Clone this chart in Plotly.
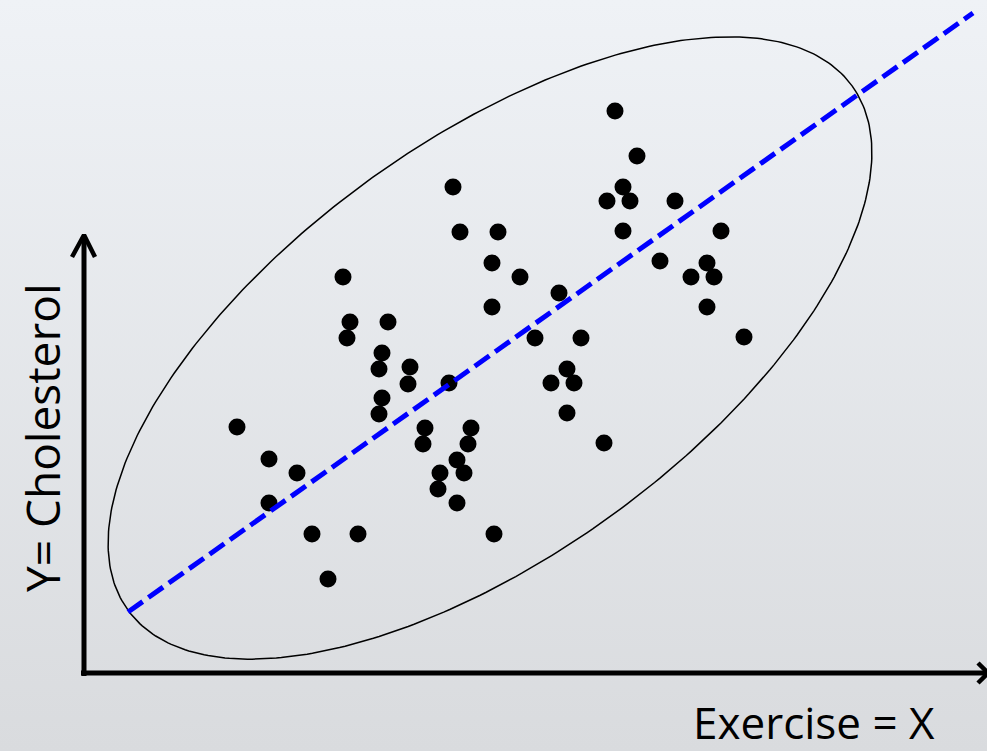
import numpy as np
import plotly.graph_objects as go

# ---- data (units: 1 unit = 10 px from the axis origin) ----
exercise = [53.1, 55.3, 36.9, 53.9, 52.3, 54.6, 59.1, 37.6, 41.4, 53.9,
            63.7, 40.8, 57.6, 62.3, 43.6, 60.7, 63.0, 25.9, 47.5, 40.8,
            62.3, 26.6, 30.4, 26.3, 45.1, 49.7, 66.0, 29.8, 29.5, 32.6,
            48.3, 32.4, 36.5, 46.7, 49.0, 29.8, 29.5, 48.3, 15.3, 34.1,
            38.7, 33.9, 38.4, 52.0, 18.5, 37.3, 21.3, 35.6, 38.0, 35.4,
            18.5, 37.3, 22.8, 27.4, 41.0, 24.4]
cholesterol = [56.2, 51.7, 48.6, 48.6, 47.2, 47.2, 47.2, 44.1, 44.1, 44.2,
               44.2, 41.0, 41.2, 41.0, 39.6, 39.6, 39.6, 39.6, 38.0, 36.6,
               36.6, 35.1, 35.1, 33.5, 33.5, 33.5, 33.6, 32.0, 30.4, 30.6,
               30.4, 28.9, 29.0, 29.0, 29.0, 27.5, 25.9, 26.0, 24.6, 24.5,
               24.5, 22.9, 22.9, 23.0, 21.4, 21.3, 20.0, 20.0, 20.0, 18.4,
               17.0, 17.0, 13.9, 13.9, 13.9, 9.4]

fit_x = [4.4, 88.9]
fit_y = [6.1, 66.0]

ellipse_center = (40.6, 32.5)
ellipse_axes = (44.7, 20.7)
ellipse_angle_deg = 35.9

x_label = "Exercise = X"
y_label = "Y= Cholesterol"

X_RANGE = [-8.4, 90.3]
Y_RANGE = [-7.8, 67.3]

fig = go.Figure()

# gradient background
fig.add_trace(go.Scatter(
    x=[X_RANGE[0], X_RANGE[1], X_RANGE[1], X_RANGE[0], X_RANGE[0]],
    y=[Y_RANGE[0], Y_RANGE[0], Y_RANGE[1], Y_RANGE[1], Y_RANGE[0]],
    mode="lines", line=dict(width=0), fill="toself",
    fillgradient=dict(type="vertical",
                      colorscale=[[0, "#D9DBDE"], [1, "#EFF2F6"]]),
    hoverinfo="skip", showlegend=False))

# ellipse
t = np.linspace(0, 2 * np.pi, 400)
th = np.deg2rad(ellipse_angle_deg)
a, b = ellipse_axes
ex = ellipse_center[0] + a * np.cos(t) * np.cos(th) - b * np.sin(t) * np.sin(th)
ey = ellipse_center[1] + a * np.cos(t) * np.sin(th) + b * np.sin(t) * np.cos(th)
fig.add_trace(go.Scatter(x=ex, y=ey, mode="lines",
                         line=dict(color="black", width=1.5),
                         hoverinfo="skip", showlegend=False))

# points
fig.add_trace(go.Scatter(x=exercise, y=cholesterol, mode="markers",
                         marker=dict(color="black", size=17, line=dict(width=0)),
                         showlegend=False))

# regression line
fig.add_trace(go.Scatter(x=fit_x, y=fit_y, mode="lines",
                         line=dict(color="#0000FF", width=5, dash="18px,7px"),
                         showlegend=False))

# axes with arrows
axis_style = dict(color="black", width=5)
fig.add_trace(go.Scatter(x=[0, 0], y=[-0.3, 43.6], mode="lines",
                         line=axis_style, showlegend=False, hoverinfo="skip"))
fig.add_trace(go.Scatter(x=[-0.3, 90.3], y=[0, 0], mode="lines",
                         line=axis_style, showlegend=False, hoverinfo="skip"))
fig.add_trace(go.Scatter(x=[-1.2, 0, 1.1], y=[41.6, 43.8, 41.6], mode="lines",
                         line=dict(color="black", width=4.5),
                         showlegend=False, hoverinfo="skip"))
fig.add_trace(go.Scatter(x=[89.4, 90.4, 89.4], y=[1.0, 0, -1.0], mode="lines",
                         line=dict(color="black", width=4.5),
                         showlegend=False, hoverinfo="skip"))

fig.add_annotation(x=73.0, y=-4.9, xref="x", yref="y", text=x_label,
                   showarrow=False, borderpad=0,
                   font=dict(family="Open Sans", size=44, color="black"),
                   xanchor="center", yanchor="middle")
fig.add_annotation(x=-4.2, y=23.5, xref="x", yref="y", text=y_label,
                   showarrow=False,
                   font=dict(family="Open Sans", size=46, color="black"),
                   textangle=-90, xanchor="center", yanchor="middle")

fig.update_layout(
    width=987, height=751,
    margin=dict(l=0, r=0, t=0, b=0),
    paper_bgcolor="#E4E6EA", plot_bgcolor="rgba(0,0,0,0)",
    xaxis=dict(range=X_RANGE, visible=False, fixedrange=True),
    yaxis=dict(range=Y_RANGE, visible=False, fixedrange=True),
    showlegend=False,
)

fig.write_html(
    "out.html",
    config={"displayModeBar": False},
    post_script="document.body.style.margin='0';document.body.style.overflow='hidden';",
)
